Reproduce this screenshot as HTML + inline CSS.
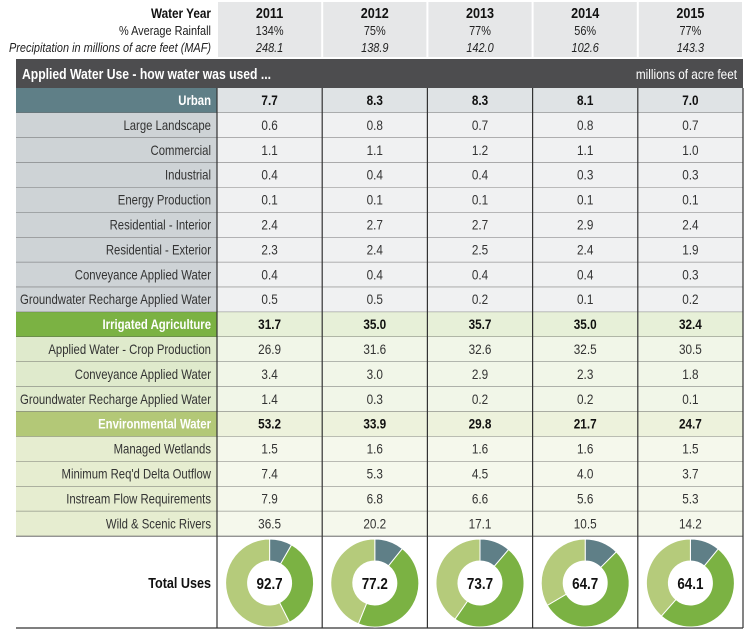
<!DOCTYPE html>
<html><head><meta charset="utf-8"><style>
html,body{margin:0;padding:0;background:#fff;}
svg{display:block;font-family:"Liberation Sans",sans-serif;}
</style></head><body>
<svg id="c" width="745" height="630"></svg>
<script>
const years=["2011","2012","2013","2014","2015"];
const rainfall=["134%","75%","77%","56%","77%"];
const precip=["248.1","138.9","142.0","102.6","143.3"];
const rowLabels=["Urban","Large Landscape","Commercial","Industrial","Energy Production","Residential - Interior","Residential - Exterior","Conveyance Applied Water","Groundwater Recharge Applied Water","Irrigated Agriculture","Applied Water - Crop Production","Conveyance Applied Water","Groundwater Recharge Applied Water","Environmental Water","Managed Wetlands","Minimum Req'd Delta Outflow","Instream Flow Requirements","Wild & Scenic Rivers"];
const rowGroup=["u","u","u","u","u","u","u","u","u","a","a","a","a","e","e","e","e","e"];
const rowHead=[1,0,0,0,0,0,0,0,0,1,0,0,0,1,0,0,0,0];
const values=[
["7.7","8.3","8.3","8.1","7.0"],
["0.6","0.8","0.7","0.8","0.7"],
["1.1","1.1","1.2","1.1","1.0"],
["0.4","0.4","0.4","0.3","0.3"],
["0.1","0.1","0.1","0.1","0.1"],
["2.4","2.7","2.7","2.9","2.4"],
["2.3","2.4","2.5","2.4","1.9"],
["0.4","0.4","0.4","0.4","0.3"],
["0.5","0.5","0.2","0.1","0.2"],
["31.7","35.0","35.7","35.0","32.4"],
["26.9","31.6","32.6","32.5","30.5"],
["3.4","3.0","2.9","2.3","1.8"],
["1.4","0.3","0.2","0.2","0.1"],
["53.2","33.9","29.8","21.7","24.7"],
["1.5","1.6","1.6","1.6","1.5"],
["7.4","5.3","4.5","4.0","3.7"],
["7.9","6.8","6.6","5.6","5.3"],
["36.5","20.2","17.1","10.5","14.2"]];
const urbanTotals=[7.7,8.3,8.3,8.1,7.0];
const agTotals=[31.7,35.0,35.7,35.0,32.4];
const envTotals=[53.2,33.9,29.8,21.7,24.7];
const totals=["92.7","77.2","73.7","64.7","64.1"];

const NS="http://www.w3.org/2000/svg";
const svg=document.getElementById('c');
const SX=0.84;
function mk(t,a,txt){const e=document.createElementNS(NS,t);for(const k in a)e.setAttribute(k,a[k]);if(txt!==undefined){e.textContent=txt;const x=+a.x;e.setAttribute('transform',`translate(${x},0) scale(${SX},1) translate(${-x},0)`);}svg.appendChild(e);return e;}
const L=16,C0=217,CW=105.2,TOP=88,RH=24.9;
const colX=i=>C0+i*CW;
const rowY=i=>TOP+i*RH;
const pal={u:{hl:"#5f7f87",hc:"#dfe3e5",sl:"#ced3d6",sc:"#f0f1f2"},
a:{hl:"#7bb243",hc:"#e7f0d8",sl:"#dfeacc",sc:"#f1f6e8"},
e:{hl:"#b3c877",hc:"#edf2dc",sl:"#e6edd0",sc:"#f5f8ec"}};

let t;
t=mk('text',{x:211,y:18,'text-anchor':'end','font-size':14,'font-weight':'bold',fill:'#111'},'Water Year');

t=mk('text',{x:211,y:35,'text-anchor':'end','font-size':13,fill:'#222'},'% Average Rainfall');

t=mk('text',{x:211,y:52,'text-anchor':'end','font-size':13,'font-style':'italic',fill:'#222'},'Precipitation in millions of acre feet (MAF)');

years.forEach((y,i)=>{
  const r=mk('rect',{x:colX(i)+1,y:2,width:CW-2,height:55,fill:'#e6e7e8'});
  
  const cx=colX(i)+CW/2;
  let a=mk('text',{x:cx,y:18,'text-anchor':'middle','font-size':15,'font-weight':'bold',fill:'#111'},y);
  
  a=mk('text',{x:cx,y:35,'text-anchor':'middle','font-size':13,fill:'#222'},rainfall[i]);
  
  a=mk('text',{x:cx,y:52,'text-anchor':'middle','font-size':13,'font-style':'italic',fill:'#222'},precip[i]);
  
});
t=mk('rect',{x:L,y:59,width:743-L,height:29,fill:'#4d4d4f'});

t=mk('text',{x:22,y:79,'font-size':14.5,'font-weight':'bold',fill:'#fff'},'Applied Water Use - how water was used ...');

t=mk('text',{x:737,y:79,'text-anchor':'end','font-size':14,fill:'#fff'},'millions of acre feet');


rowLabels.forEach((lab,r)=>{
  const p=pal[rowGroup[r]],h=rowHead[r],y=rowY(r);
  let e=mk('rect',{x:L,y:y,width:C0-L,height:RH,fill:h?p.hl:p.sl});
  
  e=mk('rect',{x:C0,y:y,width:5*CW,height:RH,fill:h?p.hc:p.sc});
  
  e=mk('text',{x:211,y:y+17,'text-anchor':'end','font-size':13.5,'font-weight':h?'bold':'normal',fill:h?'#fff':'#333'},lab);
  
  values[r].forEach((v,i)=>{
    const c=mk('text',{x:colX(i)+CW/2,y:y+17,'text-anchor':'middle','font-size':14,'font-weight':h?'bold':'normal',fill:h?'#111':'#333'},v);
    
  });
  e=mk('line',{x1:L,x2:743,y1:y+RH,y2:y+RH,stroke:'#555','stroke-width':0.8});
  
});
t=mk('text',{x:211,y:588,'text-anchor':'end','font-size':15,'font-weight':'bold',fill:'#111'},'Total Uses');

t=mk('line',{x1:L,x2:743,y1:628,y2:628,stroke:'#333','stroke-width':1.2});

for(let i=0;i<=5;i++){
  const l=mk('line',{x1:colX(i),x2:colX(i),y1:TOP,y2:628,stroke:'#333','stroke-width':1.2});
  
}
function arc(cx,cy,R,r,a0,a1){
  const p=(a,rad)=>[cx+rad*Math.sin(a),cy-rad*Math.cos(a)];
  const lg=(a1-a0)>Math.PI?1:0;
  const [x0,y0]=p(a0,R),[x1,y1]=p(a1,R),[x2,y2]=p(a1,r),[x3,y3]=p(a0,r);
  return `M${x0},${y0}A${R},${R} 0 ${lg} 1 ${x1},${y1}L${x2},${y2}A${r},${r} 0 ${lg} 0 ${x3},${y3}Z`;
}
const segColors=["#5f7f87","#7bb243","#b5cb7b"];
years.forEach((y,i)=>{
  const cx=colX(i)+CW/2,cy=583,R=44,r=22;
  const parts=[urbanTotals[i],agTotals[i],envTotals[i]];
  const sum=parts.reduce((a,b)=>a+b,0);
  let a=0;
  parts.forEach((v,k)=>{
    const a1=a+v/sum*2*Math.PI;
    const s=mk('path',{d:arc(cx,cy,R,r,a,a1),fill:segColors[k],stroke:'#fff','stroke-width':1});
    
    
    a=a1;
  });
  const tx=mk('text',{x:cx,y:cy+6,'text-anchor':'middle','font-size':16,'font-weight':'bold',fill:'#111'},totals[i]);
  
});
</script>
</body></html>
